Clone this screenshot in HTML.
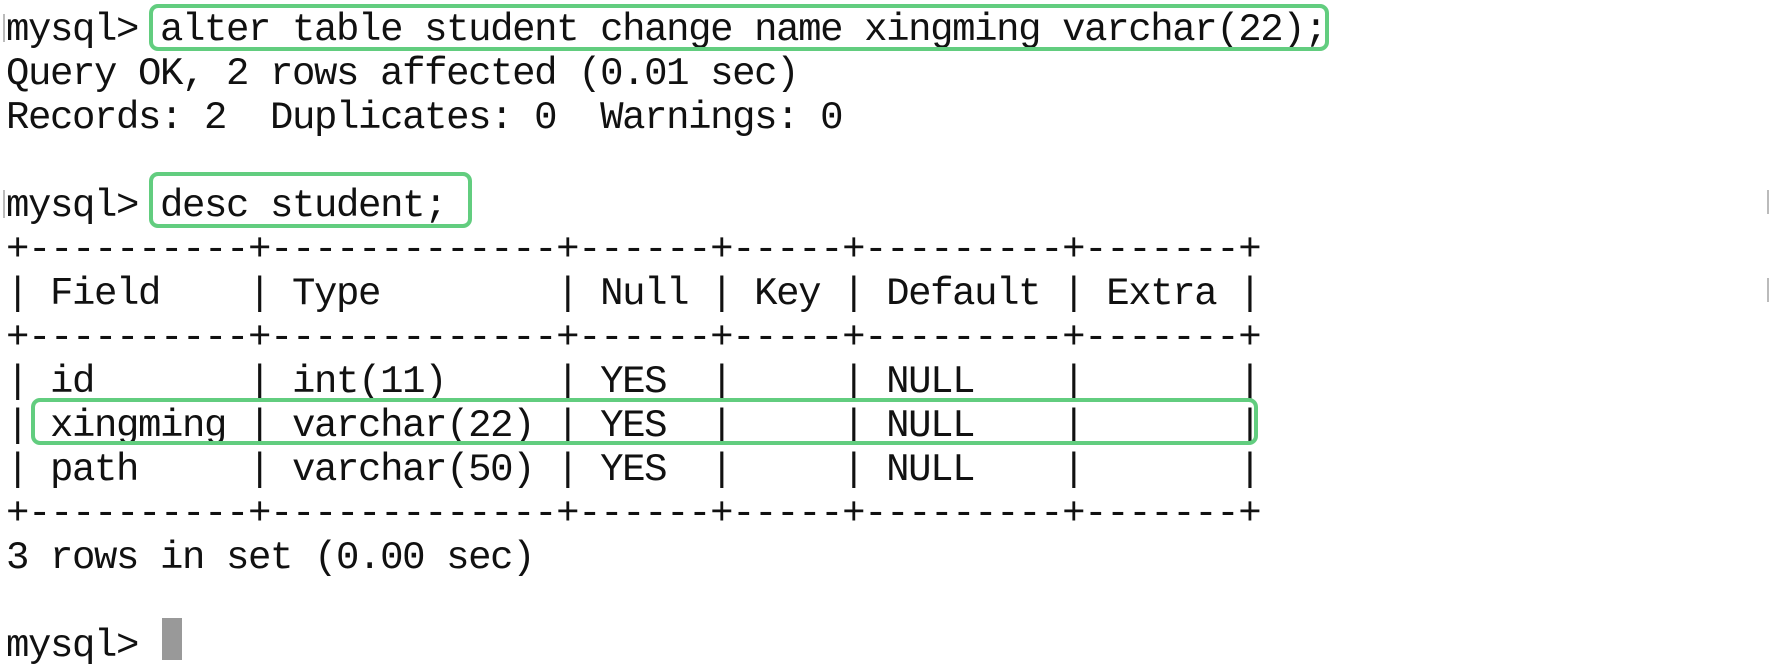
<!DOCTYPE html>
<html><head><meta charset="utf-8"><style>
html,body{margin:0;padding:0;background:#fff;width:1772px;height:666px;overflow:hidden;position:relative}
pre{position:absolute;left:6px;top:8px;margin:0;font-family:"Liberation Mono",monospace;font-size:39px;letter-spacing:-1.4px;line-height:44px;color:#111}
.b{position:absolute;border:4px solid #62cd7f;border-radius:9px;box-sizing:border-box}
.cur{position:absolute;left:162px;top:618px;width:20px;height:42px;background:#999}
.m{position:absolute;width:2px;background:#bbb}
</style></head><body>
<pre>mysql> alter table student change name xingming varchar(22);
Query OK, 2 rows affected (0.01 sec)
Records: 2  Duplicates: 0  Warnings: 0

mysql> desc student;
+----------+-------------+------+-----+---------+-------+
| Field    | Type        | Null | Key | Default | Extra |
+----------+-------------+------+-----+---------+-------+
| id       | int(11)     | YES  |     | NULL    |       |
| xingming | varchar(22) | YES  |     | NULL    |       |
| path     | varchar(50) | YES  |     | NULL    |       |
+----------+-------------+------+-----+---------+-------+
3 rows in set (0.00 sec)

mysql> </pre>
<div class="b" style="left:149px;top:4px;width:1180px;height:47px"></div>
<div class="b" style="left:149px;top:172px;width:323px;height:56px"></div>
<div class="b" style="left:31px;top:398px;width:1227px;height:47px"></div>
<div class="cur"></div>
<div class="m" style="left:3px;top:14px;height:28px"></div>
<div class="m" style="left:3px;top:190px;height:28px"></div>
<div class="m" style="left:1767px;top:190px;height:24px"></div>
<div class="m" style="left:1767px;top:278px;height:24px"></div>
</body></html>
